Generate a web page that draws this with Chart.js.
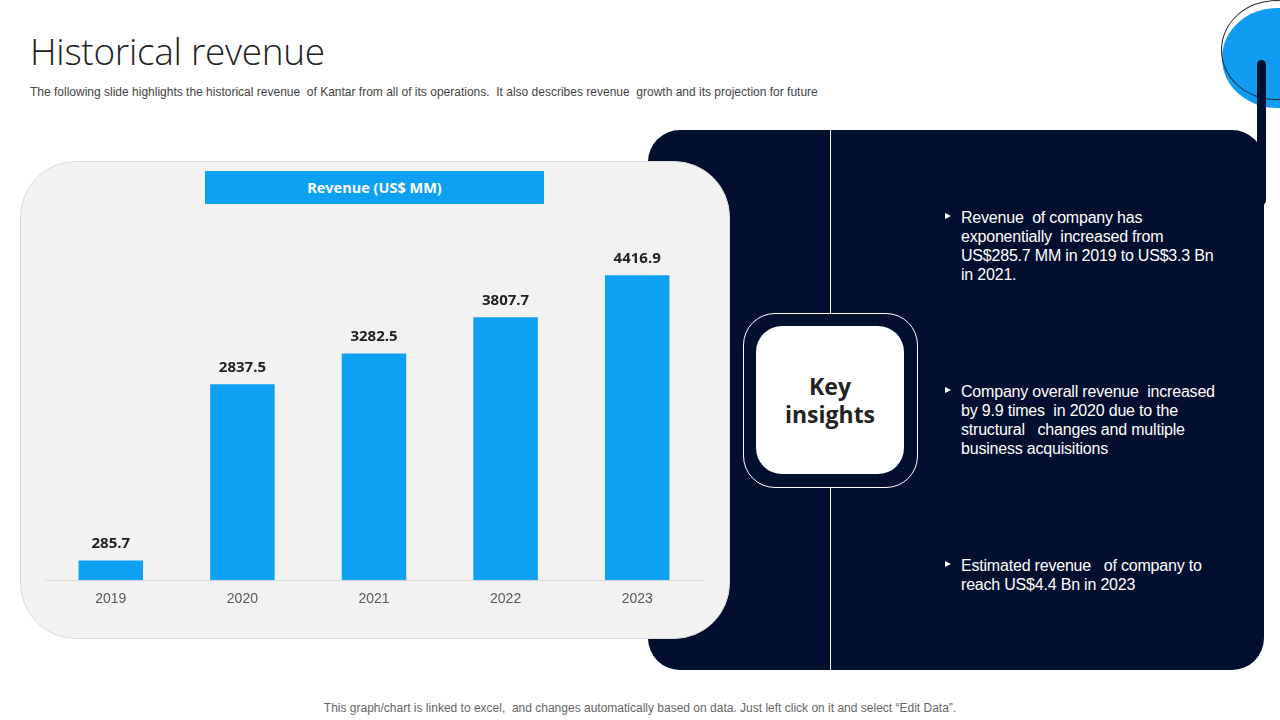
<!DOCTYPE html>
<html>
<head>
<meta charset="utf-8">
<script src="https://cdn.jsdelivr.net/npm/chart.js@4.4.1/dist/chart.umd.min.js"></script>
<style>
  html,body{margin:0;padding:0;background:#fff;}
  body{width:1280px;height:720px;position:relative;overflow:hidden;font-family:"Liberation Sans",Arial,sans-serif;}
  .abs{position:absolute;}
  #title{left:30px;top:25px;font-family:"Open Sans",sans-serif;font-weight:300;font-size:37px;color:#222;letter-spacing:-0.3px;}
  #sub{left:30px;top:85px;font-size:12px;color:#444;letter-spacing:0px;white-space:nowrap;}
  #footer{left:0;width:1280px;top:701px;text-align:center;font-size:12px;color:#666;letter-spacing:0px;}
  #panel{left:648px;top:130px;width:616px;height:540px;background:#020f2e;border-radius:32px;}
  #bar{left:1257px;top:60px;width:9px;height:145px;background:#020f2e;border-radius:5px;}
  #circ{left:1222px;top:8px;width:110px;height:100px;border-radius:50%;background:#109cf0;}
  #circo{left:1221px;top:0px;width:110px;height:100px;border-radius:50%;border:1px solid #2a2a3a;box-sizing:border-box;}
  #vline1{left:830px;top:130px;width:1px;height:183px;background:#fff;}
  #vline2{left:830px;top:488px;width:1px;height:182px;background:#fff;}
  #outer{left:743px;top:313px;width:175px;height:175px;border:1px solid #fff;border-radius:32px;box-sizing:border-box;}
  #inner{left:756px;top:326px;width:148px;height:148px;background:#fff;border-radius:26px;display:flex;align-items:center;justify-content:center;text-align:center;font-family:"Open Sans",sans-serif;font-weight:700;font-size:23px;line-height:28px;color:#222;}
  .bl{left:945px;width:281px;color:#fff;font-size:16px;line-height:19px;letter-spacing:-0.2px;}
  .bl .tri{position:absolute;left:0;top:5px;width:0;height:0;border-top:3.5px solid transparent;border-bottom:3.5px solid transparent;border-left:6px solid #fff;}
  .bl .tx{margin-left:16px;}
  #card{left:20px;top:161px;width:710px;height:478px;background:#f2f2f2;border:1px solid #dcdcdc;box-sizing:border-box;border-radius:56px;}
  #rtitle{left:205px;top:171px;width:339px;height:33px;background:#0ea0f2;color:#fff;font-family:"Open Sans",sans-serif;font-weight:700;font-size:14.5px;line-height:33px;text-align:center;}
  #cwrap{left:25px;top:200px;width:700px;height:430px;}
</style>
</head>
<body>
<div class="abs" id="circ"></div>
<div class="abs" id="circo"></div>
<div class="abs" id="bar"></div>
<div class="abs" id="panel"></div>
<div class="abs" id="vline1"></div>
<div class="abs" id="vline2"></div>
<div class="abs" id="outer"></div>
<div class="abs" id="inner">Key<br>insights</div>
<div class="abs bl" style="top:208px;"><span class="tri"></span><div class="tx">Revenue &nbsp;of company has exponentially &nbsp;increased from US$285.7 MM in 2019 to US$3.3 Bn in 2021.</div></div>
<div class="abs bl" style="top:382px;"><span class="tri"></span><div class="tx">Company overall revenue &nbsp;increased by 9.9 times &nbsp;in 2020 due to the structural &nbsp;&nbsp;changes and multiple business acquisitions</div></div>
<div class="abs bl" style="top:556px;"><span class="tri"></span><div class="tx">Estimated revenue &nbsp;&nbsp;of company to reach US$4.4 Bn in 2023</div></div>

<div class="abs" id="title">Historical revenue</div>
<div class="abs" id="sub">The following slide highlights the historical revenue &nbsp;of Kantar from all of its operations. &nbsp;It also describes revenue &nbsp;growth and its projection for future</div>

<div class="abs" id="card"></div>
<div class="abs" id="rtitle">Revenue (US$ MM)</div>
<div class="abs" id="cwrap"><canvas id="c"></canvas></div>

<div class="abs" id="footer">This graph/chart is linked to excel, &nbsp;and changes automatically based on data. Just left click on it and select “Edit Data”.</div>

<script>
const years = ["2019", "2020", "2021", "2022", "2023"];
const revenue = [285.7, 2837.5, 3282.5, 3807.7, 4416.9];
const seriesName = "Revenue (US$ MM)";

const valueLabels = {
  id: 'valueLabels',
  afterDatasetsDraw(chart) {
    const ctx = chart.ctx;
    const meta = chart.getDatasetMeta(0);
    ctx.save();
    ctx.font = 'bold 15px "Open Sans", sans-serif';
    ctx.fillStyle = '#222';
    ctx.textAlign = 'center';
    ctx.textBaseline = 'middle';
    meta.data.forEach((el, i) => {
      ctx.fillText(revenue[i].toFixed(1), el.x, el.y - 17);
    });
    ctx.restore();
  }
};

new Chart(document.getElementById('c'), {
  type: 'bar',
  data: {
    labels: years,
    datasets: [{
      label: seriesName,
      data: revenue,
      backgroundColor: '#0ea0f2',
      categoryPercentage: 1.0,
      barPercentage: 0.49
    }]
  },
  options: {
    responsive: true,
    maintainAspectRatio: false,
    animation: false,
    layout: { padding: { left: 20, right: 22, top: 35, bottom: 19 } },
    plugins: { legend: { display: false }, tooltip: { enabled: false } },
    scales: {
      x: {
        grid: { display: false },
        border: { display: true, color: '#d9d9d9', width: 1 },
        ticks: { color: '#595959', font: { family: '"Liberation Sans", Arial, sans-serif', size: 14 }, padding: 3 }
      },
      y: {
        display: false,
        min: 0,
        max: 5000
      }
    }
  },
  plugins: [valueLabels]
});
</script>
</body>
</html>
